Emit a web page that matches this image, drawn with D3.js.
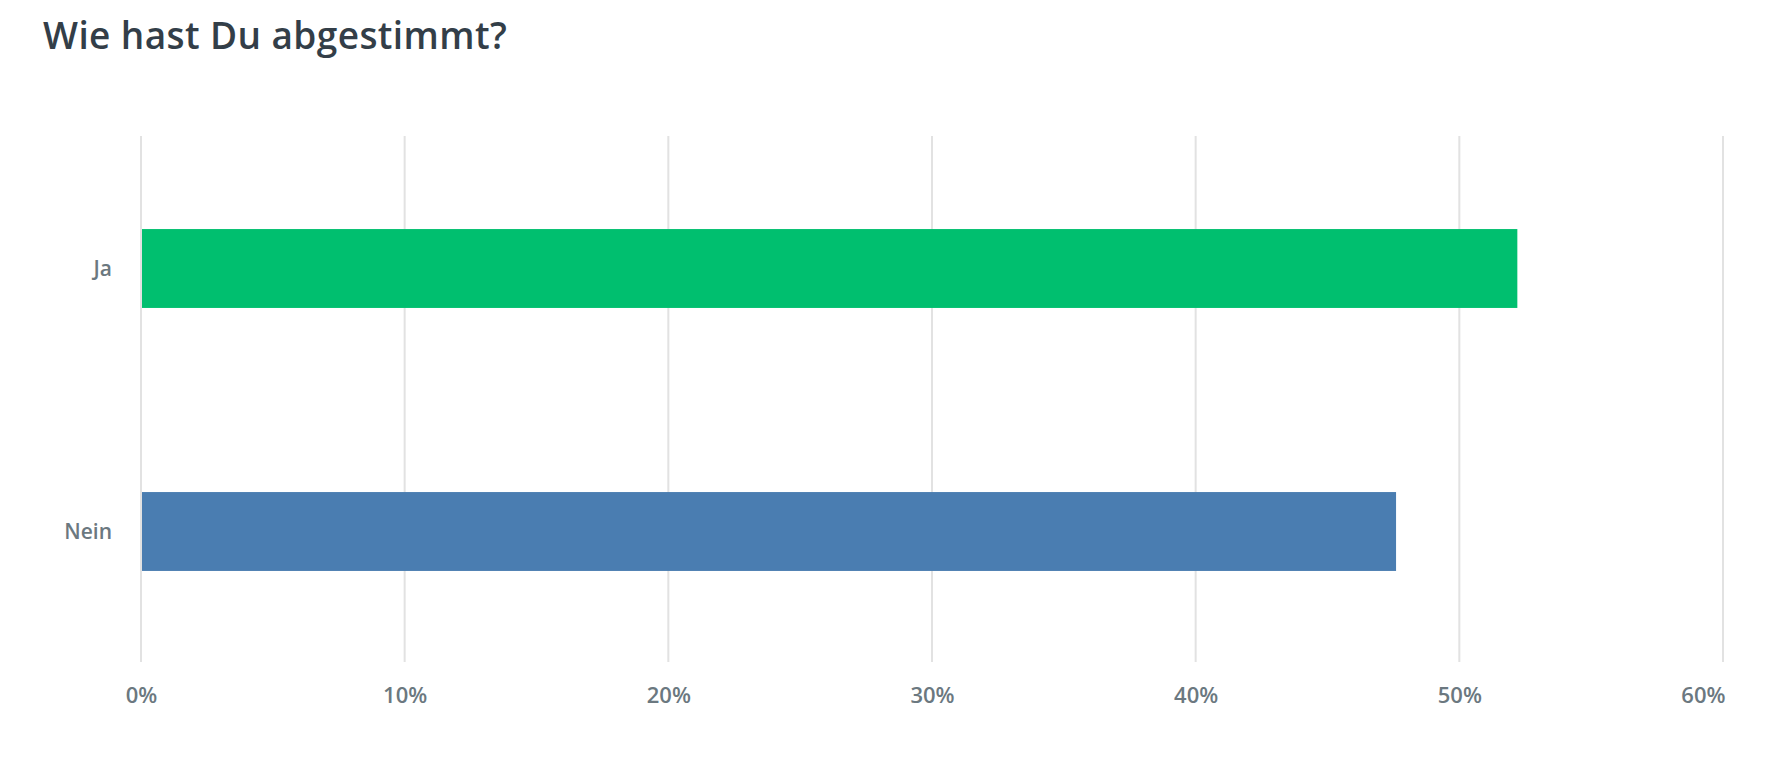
<!DOCTYPE html>
<html>
<head lang="de">
    <meta charset="UTF-8">
    <title>Wie hast Du abgestimmt?</title>
    <script src="https://cdnjs.cloudflare.com/ajax/libs/d3/7.8.5/d3.min.js" charset="utf-8"></script>
</head>
<body style="margin: 0; background: white">
<div id="chart"></div>
<script>

var title = 'Wie hast Du abgestimmt?';
var answers = ['Ja', 'Nein'];
var shares = [52.2, 47.6];
var barColors = ['#00bf6f', '#4a7db1'];
var tickValues = [0, 10, 20, 30, 40, 50, 60];

var width = 1778, height = 780;
var margin = {top: 136, right: 55, bottom: 118, left: 141};

var svg = d3.select('#chart').append('svg')
    .attr('width', width)
    .attr('height', height)
    .style('font-family', '"Open Sans", sans-serif');

svg.append('text')
    .attr('x', 43)
    .attr('y', 49)
    .attr('fill', '#333e48')
    .style('font-size', '37px')
    .style('font-weight', 600)
    .style('letter-spacing', '0.4px')
    .text(title);

var x = d3.scaleLinear()
    .domain([0, 60])
    .range([margin.left, width - margin.right]);

var y = d3.scaleBand()
    .domain(answers)
    .range([margin.top, height - margin.bottom])
    .paddingInner(0.7)
    .paddingOuter(0.35);

// vertical grid lines
svg.append('g').selectAll('line')
    .data(tickValues)
    .enter().append('line')
    .attr('x1', function(d) { return x(d); })
    .attr('x2', function(d) { return x(d); })
    .attr('y1', margin.top)
    .attr('y2', height - margin.bottom)
    .attr('stroke', '#e2e2e2')
    .attr('stroke-width', 2);

svg.append('g').selectAll('rect')
    .data(answers)
    .enter().append('rect')
    .attr('x', x(0) + 1)
    .attr('y', function(d) { return y(d) + 1; })
    .attr('width', function(d, i) { return x(shares[i]) - x(0) - 1; })
    .attr('height', y.bandwidth())
    .attr('fill', function(d, i) { return barColors[i]; });

// x axis labels
var xAxis = d3.axisBottom(x)
    .tickValues(tickValues)
    .tickSize(0)
    .tickPadding(25)
    .tickFormat(function(d) { return d + '%'; });

var gx = svg.append('g')
    .attr('transform', 'translate(0,' + (height - margin.bottom) + ')')
    .call(xAxis);
gx.select('.domain').remove();
gx.selectAll('text')
    .attr('fill', '#6b7880')
    .style('font-size', '22px')
    .style('font-weight', 600)
    .style('font-family', '"Open Sans", sans-serif');
// last label sits left of its grid line, like the original
gx.selectAll('.tick:last-of-type text')
    .attr('text-anchor', 'end')
    .attr('dx', 2);

// y axis labels
var yAxis = d3.axisLeft(y)
    .tickSize(0)
    .tickPadding(29);

var gy = svg.append('g')
    .attr('transform', 'translate(' + margin.left + ',2)')
    .call(yAxis);
gy.select('.domain').remove();
gy.selectAll('text')
    .attr('fill', '#6b7880')
    .style('font-size', '21px')
    .style('font-weight', 600)
    .style('font-family', '"Open Sans", sans-serif');

</script>
</body>
</html>
